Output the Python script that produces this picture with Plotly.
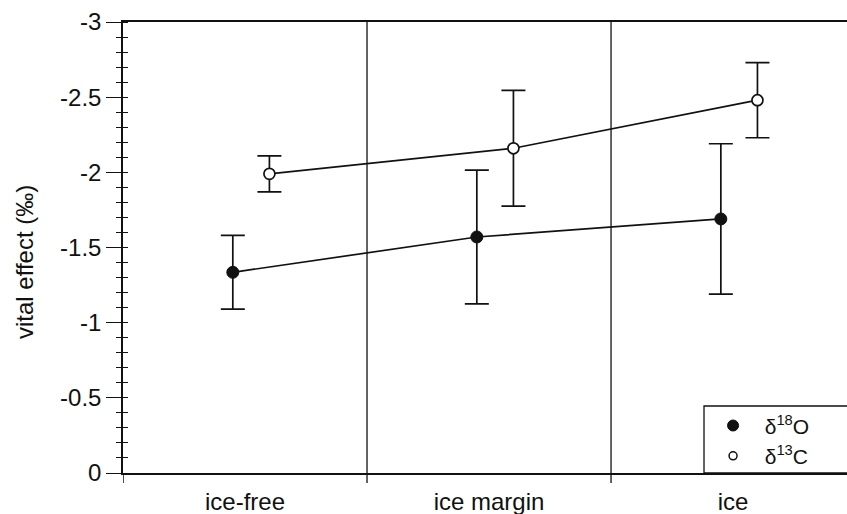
import plotly.graph_objects as go

# Sites along the ice gradient
categories = ["ice-free", "ice margin", "ice"]

# Mean vital effect (per mil) and error-bar half-widths for each isotope
d18o_mean = [-1.335, -1.57, -1.69]
d18o_err = [0.245, 0.445, 0.50]
d13c_mean = [-1.99, -2.16, -2.48]
d13c_err = [0.12, 0.385, 0.25]

y_ticks = [0, -0.5, -1, -1.5, -2, -2.5, -3]
y_ticktext = ["0", "-0.5", "-1", "-1.5", "-2", "-2.5", "-3"]

idx = list(range(len(categories)))
x_o18 = [i - 0.05 for i in idx]
x_c13 = [i + 0.10 for i in idx]

INK = "#111111"
FONT = "Liberation Sans, Arial, Helvetica, sans-serif"
FS = 24

fig = go.Figure()

fig.add_trace(go.Scatter(
    x=x_o18, y=d18o_mean, mode="lines+markers",
    line=dict(color=INK, width=1.7),
    marker=dict(symbol="circle", size=12, color=INK, line=dict(color=INK, width=1)),
    error_y=dict(type="data", array=d18o_err, visible=True, color=INK, thickness=1.7, width=12),
    showlegend=False, hoverinfo="x+y",
))
fig.add_trace(go.Scatter(
    x=x_c13, y=d13c_mean, mode="lines+markers",
    line=dict(color=INK, width=1.7),
    marker=dict(symbol="circle", size=11, color="white", line=dict(color=INK, width=1.7)),
    error_y=dict(type="data", array=d13c_err, visible=True, color=INK, thickness=1.7, width=12),
    showlegend=False, hoverinfo="x+y",
))

# Legend keys (markers only)
fig.add_trace(go.Scatter(
    x=[None], y=[None], mode="markers", name="\u00a0\u00a0δ<sup>18</sup>O",
    marker=dict(symbol="circle", size=11, color=INK, line=dict(color=INK, width=1)),
))
fig.add_trace(go.Scatter(
    x=[None], y=[None], mode="markers", name="\u00a0\u00a0δ<sup>13</sup>C",
    marker=dict(symbol="circle", size=8, color="white", line=dict(color=INK, width=1.5)),
))

# Vertical separators between sites, with short ticks below the axis
tick_drop = -10 / 451
for b in [0.5, 1.5]:
    fig.add_shape(type="line", xref="x", yref="paper", x0=b, x1=b, y0=tick_drop, y1=1,
                  line=dict(color=INK, width=1.3))
fig.add_shape(type="line", xref="x", yref="paper", x0=-0.5, x1=-0.5, y0=tick_drop, y1=0,
              line=dict(color=INK, width=1.5))

# Legend frame
fig.add_shape(type="rect", xref="paper", yref="paper", x0=0.8025, x1=1.02, y0=0, y1=0.1486,
              line=dict(color=INK, width=1.3), fillcolor="rgba(0,0,0,0)")

# Y-axis title
fig.add_annotation(
    text="vital effect (‰)", textangle=-90, showarrow=False,
    xref="paper", yref="paper", x=(24 - 123) / 724, y=(473 - 262) / 451,
    xanchor="center", yanchor="middle",
    font=dict(family=FONT, size=FS, color=INK),
)

fig.update_layout(
    width=847, height=514,
    margin=dict(l=123, r=0, t=22, b=41),
    paper_bgcolor="white", plot_bgcolor="white",
    font=dict(family=FONT, size=FS, color=INK),
    legend=dict(
        x=0.815, y=0.15, xanchor="left", yanchor="top",
        bgcolor="rgba(0,0,0,0)", borderwidth=0,
        font=dict(family=FONT, size=21, color=INK),
        tracegroupgap=0, itemsizing="trace",
    ),
    xaxis=dict(
        range=[-0.5, 2.467],
        tickmode="array", tickvals=idx, ticktext=categories,
        ticks="", showgrid=False, zeroline=False,
        showline=True, linecolor=INK, linewidth=1.5, mirror=True,
        tickfont=dict(size=FS, color=INK),
        ticklabelstandoff=6,
    ),
    yaxis=dict(
        range=[0, -3],
        tickmode="array", tickvals=y_ticks, ticktext=y_ticktext,
        ticks="outside", ticklen=15, tickwidth=1.4, tickcolor=INK,
        minor=dict(dtick=0.1, tick0=0, ticks="outside", ticklen=5, tickwidth=1.2, tickcolor=INK),
        showgrid=False, zeroline=False,
        showline=True, linecolor=INK, linewidth=1.5,
        tickfont=dict(size=FS, color=INK),
    ),
    yaxis2=dict(
        range=[0, -3], overlaying="y", side="left",
        tickmode="array", tickvals=[], showticklabels=False,
        minor=dict(dtick=0.1, tick0=0, ticks="inside", ticklen=5, tickwidth=1.2, tickcolor=INK),
        showgrid=False, zeroline=False, showline=False,
    ),
)

# anchor trace for the inside minor ticks
fig.add_trace(go.Scatter(x=[None], y=[None], yaxis="y2", showlegend=False, hoverinfo="skip"))

fig.write_html("out.html")
